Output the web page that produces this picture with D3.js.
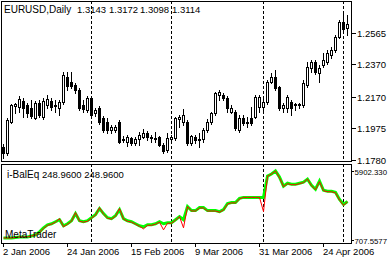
<!DOCTYPE html>
<html><head><meta charset="utf-8">
<script src="https://cdn.jsdelivr.net/npm/d3@7"></script>
<style>
html,body{margin:0;padding:0;background:#fff;overflow:hidden;}
svg{display:block;font-family:"Liberation Sans",Arial,sans-serif;font-size:10px;}
.num{font-size:9.5px;}
.sub{font-size:7.8px;}
</style></head><body>
<svg id="c" width="389" height="260"></svg>
<script>
// ---- data ----
const symbolTitle = "EURUSD,Daily";
const headerValues = ["1.3143", "1.3172", "1.3098", "1.3114"];
const indicatorName = "i-BalEq";
const indicatorValues = ["248.9600", "248.9600"];
const watermark = "MetaTrader";
const firstDay = "2006-01-02", lastDay = "2006-05-02";
const open = [1.1860,1.1823,1.2015,1.2114,1.2108,1.2145,1.2120,1.2101,1.2040,1.2132,
1.2046,1.2120,1.2145,1.2120,1.2101,1.2138,1.2293,1.2262,1.2244,1.2213,
1.2120,1.2089,1.2163,1.2070,1.2101,1.2040,1.2015,1.1965,1.1965,1.2015,
1.1904,1.1891,1.1916,1.1885,1.1910,1.1922,1.1947,1.1922,1.1916,1.1922,
1.1873,1.1842,1.1910,1.1916,1.2033,1.2015,1.2015,1.1885,1.1922,1.1910,
1.1910,1.1965,1.2015,1.2070,1.2182,1.2182,1.2163,1.2077,1.2077,1.1965,
1.2040,1.2015,1.2040,1.2046,1.2108,1.2108,1.2138,1.2262,1.2293,1.2231,
1.2101,1.2101,1.2138,1.2120,1.2120,1.2120,1.2244,1.2349,1.2386,1.2318,
1.2367,1.2386,1.2429,1.2460,1.2540,1.2633,1.2596];
const high = [1.1879,1.2040,1.2126,1.2132,1.2176,1.2163,1.2132,1.2151,1.2145,1.2151,
1.2163,1.2182,1.2163,1.2151,1.2151,1.2324,1.2324,1.2324,1.2256,1.2225,
1.2151,1.2176,1.2176,1.2101,1.2114,1.2052,1.2040,1.1996,1.1996,1.2027,
1.1928,1.1935,1.1922,1.1922,1.1953,1.1972,1.1959,1.1935,1.1953,1.1928,
1.1885,1.1947,1.1935,1.2046,1.2058,1.2095,1.2027,1.1935,1.1935,1.1947,
1.1978,1.2033,1.2077,1.2200,1.2213,1.2194,1.2176,1.2120,1.2089,1.2058,
1.2058,1.2046,1.2108,1.2182,1.2182,1.2163,1.2274,1.2318,1.2336,1.2237,
1.2132,1.2182,1.2151,1.2132,1.2132,1.2274,1.2386,1.2398,1.2398,1.2367,
1.2441,1.2460,1.2478,1.2553,1.2645,1.2688,1.2676];
const low = [1.1792,1.1811,1.2009,1.2070,1.2077,1.2046,1.2046,1.2040,1.2033,1.2046,
1.2033,1.2101,1.2089,1.2077,1.2058,1.2126,1.2213,1.2225,1.2194,1.2089,
1.2077,1.2077,1.2040,1.2052,1.2002,1.1953,1.1947,1.1947,1.1953,1.1885,
1.1891,1.1867,1.1873,1.1873,1.1873,1.1916,1.1904,1.1891,1.1891,1.1867,
1.1823,1.1829,1.1885,1.1904,1.1984,1.1996,1.1873,1.1873,1.1885,1.1860,
1.1891,1.1953,1.2002,1.2058,1.2151,1.2151,1.2077,1.2070,1.1965,1.1953,
1.1996,1.1984,1.1996,1.2040,1.2077,1.2070,1.2126,1.2256,1.2213,1.2089,
1.2077,1.2077,1.2058,1.2089,1.2101,1.2108,1.2231,1.2324,1.2311,1.2262,
1.2355,1.2373,1.2410,1.2447,1.2534,1.2565,1.2553];
const close = [1.1823,1.2027,1.2120,1.2126,1.2157,1.2101,1.2070,1.2052,1.2132,1.2058,
1.2145,1.2157,1.2108,1.2114,1.2138,1.2305,1.2237,1.2237,1.2213,1.2101,
1.2095,1.2163,1.2058,1.2089,1.2015,1.1965,1.1965,1.1984,1.1984,1.1891,
1.1910,1.1922,1.1885,1.1910,1.1935,1.1947,1.1922,1.1916,1.1913,1.1873,
1.1836,1.1916,1.1922,1.2040,1.2046,1.2058,1.1885,1.1928,1.1904,1.1904,
1.1965,1.2015,1.2070,1.2194,1.2200,1.2163,1.2101,1.2101,1.1978,1.2040,
1.2009,1.2009,1.2009,1.2169,1.2169,1.2138,1.2262,1.2293,1.2225,1.2101,
1.2120,1.2169,1.2101,1.2126,1.2126,1.2256,1.2355,1.2386,1.2324,1.2349,
1.2398,1.2441,1.2460,1.2540,1.2633,1.2590,1.2620];
const equity = [860,860,860,898,937,937,937,1013,1090,1319,
1624,1853,1930,2083,2235,1777,1930,2159,2694,2159,
2083,2159,2388,2617,3076,2694,2388,2312,2541,2999,
2312,2159,2083,1930,1777,1700,1853,1853,1930,2083,
1930,2006,2006,2235,2464,2235,3228,2923,2923,3152,
3152,2923,2923,2923,2846,2999,3458,3534,3534,3840,
3916,3916,3916,3916,3916,3916,5520,5673,5902,5444,
4756,4985,4909,4909,4985,5061,5291,4832,4527,5138,
4451,4374,4374,4298,3763,3381,3611];
const balance = [860,860,860,898,937,937,937,1013,1090,1280,
1580,1815,1900,2050,2312,1700,1900,2120,2770,2120,
2050,2120,2350,2580,3152,2650,2350,2280,2500,3076,
2280,2120,2050,1900,1740,1547,1815,1815,1900,2050,
1471,1970,1970,2200,2464,1624,3228,2890,2890,3120,
3120,2890,2890,2890,2800,2960,3420,3500,3500,3800,
3916,3916,3916,3916,3916,2846,5520,5673,5902,5400,
4720,4950,4870,4870,4950,5030,5291,4800,4490,5100,
4420,4340,4340,4260,3720,3305,3590];
const priceTicks = [1.2565, 1.2370, 1.2170, 1.1975, 1.1780];
const subTicks = [5902.330, 707.5577];
const subTickLabels = ["5902.330", "707.5577"];
const dateTickDays = ["2006-01-02","2006-01-24","2006-02-15","2006-03-09","2006-03-31","2006-04-24"];
const dateTickLabels = ["2 Jan 2006","24 Jan 2006","15 Feb 2006","9 Mar 2006","31 Mar 2006","24 Apr 2006"];
const separatorDays = ["2006-02-01","2006-03-01","2006-04-03","2006-05-01"];

// trading days (weekdays) as categories
const fmt = d3.utcFormat("%Y-%m-%d");
const days = d3.utcDays(new Date(firstDay + "T00:00Z"), d3.utcDay.offset(new Date(lastDay + "T00:00Z"), 1))
  .filter(d => d.getUTCDay() !== 0 && d.getUTCDay() !== 6).map(fmt);
const bars = days.map((d, i) => ({day: d, o: open[i], h: high[i], l: low[i], c: close[i], eq: equity[i], bal: balance[i]}));

// ---- layout ----
const svg = d3.select("#c");
const main = {left: 1, right: 351, top: 1, bottom: 161};
const sub = {left: 1, right: 351, top: 164, bottom: 243};

const x = d3.scalePoint().domain(days).range([3, 347]);
const y = d3.scaleLinear().domain([1.1780, 1.2565]).range([159.6, 33]);
const ys = d3.scaleLinear().domain([707.5577, 5902.330]).range([240, 171]);
const px = v => Math.round(v);

svg.append("rect").attr("width", 389).attr("height", 260).attr("fill", "#fff");

const g = svg.append("g").attr("shape-rendering", "crispEdges");

// separators (dashed)
separatorDays.forEach(d => {
  const xx = x(d) + 0.5;
  [[main.top, main.bottom], [sub.top, sub.bottom]].forEach(([a, b]) => {
    g.append("line").attr("x1", xx).attr("x2", xx).attr("y1", a).attr("y2", b)
      .attr("stroke", "#000").attr("stroke-width", 1).attr("stroke-dasharray", "3,2");
  });
});

// candles
const cg = g.append("g");
bars.forEach(b => {
  const cx = x(b.day);
  cg.append("line").attr("x1", cx + 0.5).attr("x2", cx + 0.5)
    .attr("y1", px(y(b.h))).attr("y2", px(y(b.l)) + 1).attr("stroke", "#000");
  const yo = px(y(b.o)), yc = px(y(b.c));
  if (b.c >= b.o) {
    cg.append("rect").attr("x", cx - 0.5).attr("y", yc + 0.5)
      .attr("width", 2).attr("height", Math.max(yo - yc, 0))
      .attr("fill", "#fff").attr("stroke", "#000");
  } else {
    cg.append("rect").attr("x", cx - 1).attr("y", yo)
      .attr("width", 3).attr("height", Math.max(yc - yo, 1) + 1).attr("fill", "#000");
  }
});

// sub-window lines
const lineEq = d3.line().x(d => x(d.day) + 0.5).y(d => ys(d.eq));
const lineBal = d3.line().x(d => x(d.day) + 0.5).y(d => ys(d.bal));
svg.append("path").datum(bars).attr("d", lineEq).attr("fill", "none")
  .attr("stroke", "#00ff00").attr("stroke-width", 3);
svg.append("path").datum(bars).attr("d", lineBal).attr("fill", "none")
  .attr("stroke", "#ff0000").attr("stroke-width", 1);

// frames
[main, sub].forEach(p => {
  g.append("rect").attr("x", p.left + 0.5).attr("y", p.top + 0.5)
    .attr("width", p.right - p.left).attr("height", p.bottom - p.top)
    .attr("fill", "none").attr("stroke", "#000");
});

// price axis
priceTicks.forEach(t => {
  const yy = px(y(t)) + 0.5;
  g.append("line").attr("x1", main.right + 1).attr("x2", main.right + 5).attr("y1", yy).attr("y2", yy).attr("stroke", "#000");
  svg.append("text").attr("class", "num").attr("x", main.right + 6).attr("y", yy + 3.5).text(t.toFixed(4));
});
subTicks.forEach((t, i) => {
  const yy = px(ys(t)) + 0.5;
  g.append("line").attr("x1", sub.right + 1).attr("x2", sub.right + 3).attr("y1", yy).attr("y2", yy).attr("stroke", "#000");
  svg.append("text").attr("class", "sub").attr("x", sub.right + 3.5).attr("y", yy + 3)
    .text(subTickLabels[i]);
});

// time axis
dateTickDays.forEach((d, i) => {
  const xx = x(d) + 0.5;
  g.append("line").attr("x1", xx).attr("x2", xx).attr("y1", sub.bottom + 1).attr("y2", sub.bottom + 4).attr("stroke", "#000");
  svg.append("text").attr("class", "num").attr("x", x(d)).attr("y", 255).text(dateTickLabels[i]);
});

// titles
svg.append("text").attr("x", 4).attr("y", 13).text(symbolTitle);
const hx = [77, 109, 140, 172];
headerValues.forEach((v, i) => svg.append("text").attr("class", "num").attr("x", hx[i]).attr("y", 13).text(v));
const it = svg.append("text").attr("x", 7).attr("y", 178);
it.append("tspan").text(indicatorName + " ");
indicatorValues.forEach((v, i) => it.append("tspan").attr("class", "num").text((i ? " " : "") + v));
svg.append("text").attr("x", 5).attr("y", 238).text(watermark);
</script>
</body></html>
